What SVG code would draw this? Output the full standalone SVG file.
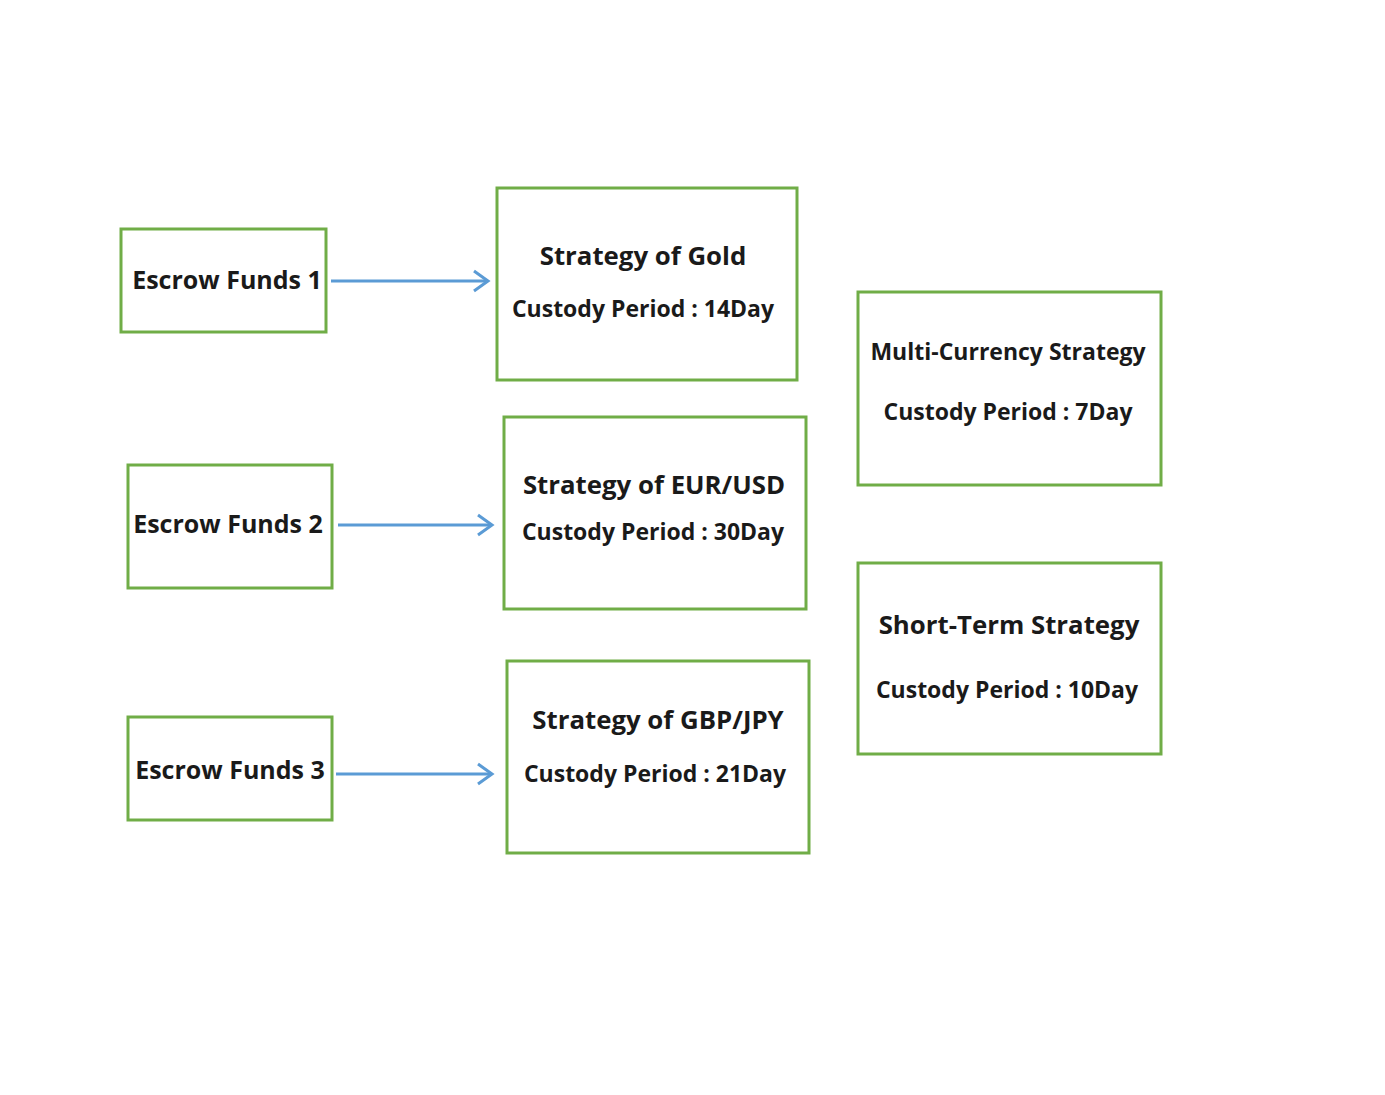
<svg xmlns="http://www.w3.org/2000/svg" width="1385" height="1095" viewBox="0 0 1385 1095">
<defs>
<style>
.box{fill:#fff;stroke:#70ad47;stroke-width:3}
.t{font-family:"Open Sans","Noto Sans",sans-serif;font-weight:bold;fill:#1a1a1a;text-anchor:middle}
.h{font-size:25.8px}
.s{font-size:23px}
.e{font-size:25px}
.c{stroke:#5b9bd5;stroke-width:3;fill:none}
</style>
<marker id="ah" markerWidth="22" markerHeight="24" refX="17" refY="12" orient="auto" markerUnits="userSpaceOnUse">
<path d="M3,2 L17,12 L3,22" fill="none" stroke="#5b9bd5" stroke-width="3"/>
</marker>
</defs>
<rect width="1385" height="1095" fill="#fff"/>
<g id="connectors">
<line class="c" x1="331" y1="281" x2="488" y2="281" marker-end="url(#ah)"/>
<line class="c" x1="338" y1="525" x2="492" y2="525" marker-end="url(#ah)"/>
<line class="c" x1="336" y1="774" x2="492" y2="774" marker-end="url(#ah)"/>
</g>
<g id="escrow1"><rect class="box" x="121" y="229" width="205" height="103"/><text class="t e" x="227" y="289">Escrow Funds 1</text></g>
<g id="escrow2"><rect class="box" x="128" y="465" width="204" height="123"/><text class="t e" x="228" y="533">Escrow Funds 2</text></g>
<g id="escrow3"><rect class="box" x="128" y="717" width="204" height="103"/><text class="t e" x="230" y="779">Escrow Funds 3</text></g>
<g id="gold"><rect class="box" x="497" y="188" width="300" height="192"/><text class="t h" x="643" y="265">Strategy of Gold</text><text class="t s" x="643" y="317">Custody Period : 14Day</text></g>
<g id="eurusd"><rect class="box" x="504" y="417" width="302" height="192"/><text class="t h" x="654" y="494">Strategy of EUR/USD</text><text class="t s" x="653" y="540">Custody Period : 30Day</text></g>
<g id="gbpjpy"><rect class="box" x="507" y="661" width="302" height="192"/><text class="t h" x="658" y="729">Strategy of GBP/JPY</text><text class="t s" x="655" y="782">Custody Period : 21Day</text></g>
<g id="multi"><rect class="box" x="858" y="292" width="303" height="193"/><text class="t s" x="1008" y="360">Multi-Currency Strategy</text><text class="t s" x="1008" y="420">Custody Period : 7Day</text></g>
<g id="short"><rect class="box" x="858" y="563" width="303" height="191"/><text class="t h" x="1009" y="634">Short-Term Strategy</text><text class="t s" x="1007" y="698">Custody Period : 10Day</text></g>
</svg>
